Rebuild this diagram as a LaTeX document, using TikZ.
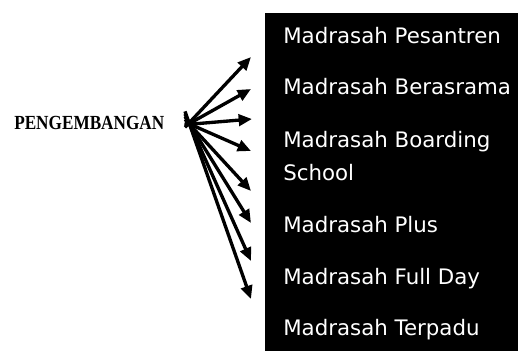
\documentclass[tikz,border=0pt]{standalone}
\usepackage{fontspec}
\usepackage{graphicx}
\usepackage{tikz}
\usetikzlibrary{arrows.meta}
\newfontfamily\madfont{DejaVu Sans}
\newfontfamily\pgfont{Liberation Serif}

\tikzset{
  fanarrow/.style={line width=2.5pt, -{Triangle[length=10pt,width=8.5pt]}},
  madlabel/.style={anchor=base west, inner sep=0.75pt, text=white, font=\madfont\fontsize{16}{19}\selectfont}
}

\begin{document}
\begin{tikzpicture}[x=0.75pt,y=0.75pt,yscale=-1,xscale=1]
\useasboundingbox (0,0) rectangle (518,351); %set diagram to the size of the reference

%Shape: Rectangle [id:black box] 
\fill[black] (265,13) rectangle (518,351) ;

% Text Node
\draw (13,129) node (pg) [anchor=base west][inner sep=0.75pt]  {\scalebox{0.86}[1]{\pgfont\bfseries\fontsize{15}{17}\selectfont PENGEMBANGAN}};

%Coordinates: hub and arrow tips
\coordinate (hub) at (185,122) ;
\coordinate (t1) at (251,57) ;
\coordinate (t2) at (251,89) ;
\coordinate (t3) at (252,119) ;
\coordinate (t4) at (251,151) ;
\coordinate (t5) at (251,191) ;
\coordinate (t6) at (251,223) ;
\coordinate (t7) at (251,261) ;
\coordinate (t8) at (251,299) ;

%Straight Lines [id:fan arrows] 
\draw[fanarrow] ([yshift=4pt]hub) -- (t1) ;
\draw[fanarrow] ([yshift=3pt]hub) -- (t2) ;
\draw[fanarrow] ([yshift=2pt]hub) -- (t3) ;
\draw[fanarrow] ([yshift=0pt]hub) -- (t4) ;
\draw[fanarrow] ([yshift=-2pt]hub) -- (t5) ;
\draw[fanarrow] ([yshift=-4pt]hub) -- (t6) ;
\draw[fanarrow] ([yshift=-6pt]hub) -- (t7) ;
\draw[fanarrow] ([yshift=-8pt]hub) -- (t8) ;

% Text Node
\draw (282,43) node (pes) [madlabel] {Madrasah Pesantren};
% Text Node
\draw (282,94) node (ber) [madlabel] {Madrasah Berasrama};
% Text Node
\draw (282,147) node (boa) [madlabel] {Madrasah Boarding};
% Text Node
\draw (282,180) node (sch) [madlabel] {School};
% Text Node
\draw (282,232) node (plu) [madlabel] {Madrasah Plus};
% Text Node
\draw (282,284) node (ful) [madlabel] {Madrasah Full Day};
% Text Node
\draw (282,335) node (ter) [madlabel] {Madrasah Terpadu};


\end{tikzpicture}
\end{document}
